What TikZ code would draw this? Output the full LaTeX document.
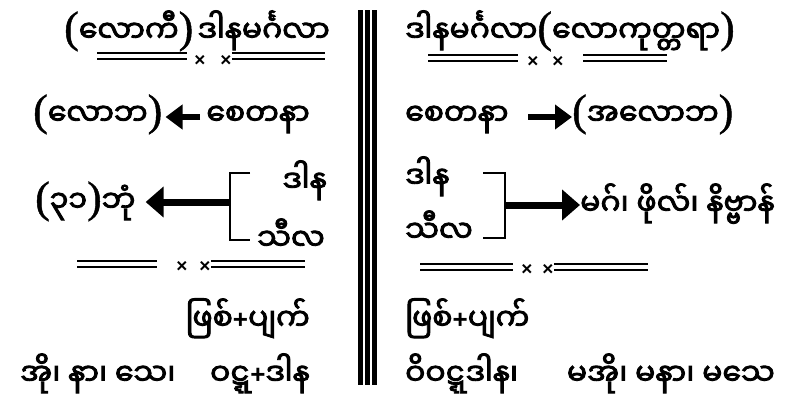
\documentclass[tikz,border=0pt]{standalone}
\usepackage{fontspec}
\newfontfamily\mya[Script=Myanmar,FakeBold=3]{Noto Sans Myanmar UI}
\newfontfamily\parfont[FakeBold=1]{Liberation Serif}
\newfontfamily\signfont{Liberation Sans}
\newcommand\lp{{\parfont\fontsize{44}{44}\selectfont(}}
\newcommand\rp{{\parfont\fontsize{44}{44}\selectfont)}}
\newcommand\pl{{\signfont\bfseries\fontsize{26}{26}\selectfont\raisebox{2pt}{+}}}
\usetikzlibrary{arrows.meta, positioning}
\tikzset{
	x=1pt, y=-1pt,
	line width=1.5pt,
	word/.style={
		inner sep=0pt,
		font=\mya\fontsize{30}{32}\selectfont
	},
	cross/.style={
		inner sep=0pt,
		font=\signfont\bfseries\fontsize{19}{19}\selectfont
	},
	uline/.style={
		double,
		double distance=4.5pt,
		line width=1.6pt
	},
	bar/.style={
		line width=5pt
	},
	brk/.style={
		line width=2.5pt
	},
	bigarrow/.style={
		line width=6.5pt,
		-{Triangle[width=24pt,length=17pt]}
	},
	hugearrow/.style={
		line width=7pt,
		-{Triangle[width=30pt,length=18pt]}
	}
}
\begin{document}
\begin{tikzpicture}
	\useasboundingbox (0,0) rectangle (787,405);
	% the triple bar in the middle
	\foreach \bx in {360.5,367.5,374.5}
		\draw[bar] (\bx,10) -- (\bx,385);

	% row 1
	\node[word, anchor=base west] (lokiL) at (64,42) {\lp လောကီ\rp};
	\node[word, anchor=base east] (danaL) at (330,42) {ဒါနမင်္ဂလာ};
	\node[word, anchor=base west] (danaR) at (405,42) {ဒါနမင်္ဂလာ\lp လောကုတ္တရာ\rp};
	\node[cross] (xa1) at (200,61) {×};
	\node[cross] (xa2) at (226,61) {×};
	\node[cross] (xb1) at (533,62) {×};
	\node[cross] (xb2) at (558,62) {×};
	\draw[uline] (97,56) -- (187,56);
	\draw[uline] (xa2.east |- 0,56) -- (325,56);
	\draw[uline] (428,58) -- (518,58);
	\draw[uline] (583,58) -- (667,58);

	% row 2
	\coordinate (r2) at (0,117);
	\coordinate (tailL) at (200,117);
	\coordinate (tailR) at (528,117);
	\node[word, anchor=base west] (lobha) at (33,125) {\lp လောဘ\rp};
	\node[word, anchor=base east] (cetL) at (310,125) {စေတနာ};
	\node[word, anchor=base west] (cetR) at (405,125) {စေတနာ};
	\node[word, anchor=base west] (alobha) at (572,125) {\lp အလောဘ\rp};
	\draw[bigarrow, shorten >=3pt] (tailL) -- (lobha.east |- r2);
	\draw[bigarrow] (tailR) -- (alobha.west |- r2);

	% row 3
	\node[word, anchor=base east] (danaL3) at (327,192) {ဒါန};
	\node[word, anchor=base east] (silaL3) at (325,250) {သီလ};
	\node[word, anchor=base west] (bhumi) at (35,212) {\lp ၃၁\rp ဘုံ};
	\node[word, anchor=base west] (danaR3) at (405,188) {ဒါန};
	\node[word, anchor=base west] (silaR3) at (405,242) {သီလ};
	\node[word, anchor=base west] (magga) at (580,215) {မဂ်၊ ဖိုလ်၊ နိဗ္ဗာန်};
	\coordinate (bL) at (230,202);
	\coordinate (bR) at (505,205);
	\draw[brk] (250,173) -- (230,173) -- (230,240) -- (250,240);
	\draw[brk] (483,173) -- (505,173) -- (505,238) -- (483,238);
	\draw[hugearrow, shorten >=10pt] (bL) -- (bhumi.east |- bL);
	\draw[hugearrow] (bR) -- (magga.west |- bR);
	\node[cross] (xc1) at (182,267) {×};
	\node[cross] (xc2) at (205,267) {×};
	\node[cross] (xd1) at (527,270) {×};
	\node[cross] (xd2) at (548,270) {×};
	\draw[uline] (77,264) -- (157,264);
	\draw[uline] (xc2.east |- 0,264) -- (305,264);
	\draw[uline] (420,267) -- (513,267);
	\draw[uline] (xd2.east |- 0,267) -- (648,267);

	% row 4
	\node[word, anchor=base east] (arisL) at (310,330) {ဖြစ်\pl ပျက်};
	\node[word, anchor=base west] (arisR) at (405,330) {ဖြစ်\pl ပျက်};

	% row 5
	\node[word, anchor=base west] (jaraL) at (20,385) {အို၊ နာ၊ သေ၊};
	\node[word, anchor=base east] (vattaL) at (310,385) {ဝဋ္ဋ\pl ဒါန};
	\node[word, anchor=base west] (vattaR) at (405,385) {ဝိဝဋ္ဋဒါန၊};
	\node[word, anchor=base east] (jaraR) at (775,385) {မအို၊ မနာ၊ မသေ};
\end{tikzpicture}
\end{document}
